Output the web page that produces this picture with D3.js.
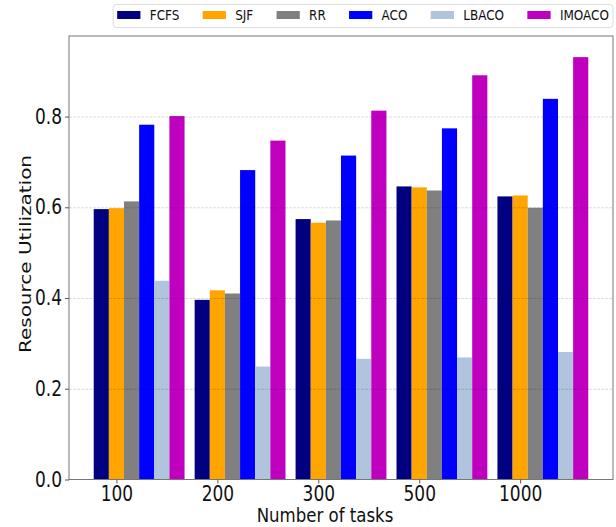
<!DOCTYPE html>
<html>
<head>
<meta charset="utf-8">
<script src="https://cdn.jsdelivr.net/npm/d3@7"></script>
<style>
  html, body { margin: 0; padding: 0; background: #fff; }
  svg { display: block; font-family: "DejaVu Sans", sans-serif; }
</style>
</head>
<body>
<script>
const taskCounts = ['100', '200', '300', '500', '1000'];
const algorithms = ['FCFS', 'SJF', 'RR', 'ACO', 'LBACO', 'IMOACO'];
const algoColors = ['#000080', '#ffa500', '#808080', '#0000ff', '#b0c4de', '#bf00bf'];

const fcfs = [0.596, 0.396, 0.574, 0.646, 0.624];
const sjf = [0.598, 0.417, 0.566, 0.644, 0.626];
const rr = [0.613, 0.410, 0.571, 0.637, 0.599];
const aco = [0.782, 0.682, 0.714, 0.774, 0.839];
const lbaco = [0.438, 0.249, 0.266, 0.269, 0.281];
const imoaco = [0.801, 0.747, 0.813, 0.891, 0.931];
const series = [fcfs, sjf, rr, aco, lbaco, imoaco];

const yTicks = [0.0, 0.2, 0.4, 0.6, 0.8];

const width = 616;
const height = 527;
const sx = 0.83; // the picture is squeezed sideways
const barW = 0.15;
const margin = { top: 36, right: 3, bottom: 47.5, left: 69 };

const svg = d3.select('body')
  .append('svg')
  .attr('width', width)
  .attr('height', height);

// matplotlib style 5% margins on x
const xMin = -barW / 2;
const xMax = taskCounts.length - 1 + (algorithms.length - 1) * barW + barW / 2;
const pad = (xMax - xMin) * 0.05;
const x = d3.scaleLinear()
  .domain([xMin - pad, xMax + pad])
  .range([margin.left, width - margin.right]);

const yMax = d3.max(series.flat()) * 1.05;
const y = d3.scaleLinear()
  .domain([0, yMax])
  .range([height - margin.bottom, margin.top]);

const squeeze = (sel) => sel.each(function() {
  const t = d3.select(this);
  const tx = +t.attr('x') || 0;
  t.attr('x', tx / sx).attr('transform', `scale(${sx},1)`);
});

// bars
const rows = [];
series.forEach((vals, j) => vals.forEach((v, i) => rows.push({ i, j, v })));
svg.append('g')
  .selectAll('rect')
  .data(rows)
  .enter()
  .append('rect')
  .attr('x', (d) => x(d.i + d.j * barW - barW / 2))
  .attr('width', x(barW) - x(0))
  .attr('y', (d) => y(d.v))
  .attr('height', (d) => y(0) - y(d.v))
  .attr('fill', (d) => algoColors[d.j]);

// grid on top of bars, faint
svg.append('g')
  .selectAll('line')
  .data(yTicks.slice(1))
  .enter()
  .append('line')
  .attr('x1', margin.left)
  .attr('x2', width - margin.right)
  .attr('y1', (d) => y(d) + 0.5)
  .attr('y2', (d) => y(d) + 0.5)
  .attr('stroke', '#000')
  .attr('stroke-opacity', 0.14)
  .attr('stroke-dasharray', '3,1');

// frame
svg.append('rect')
  .attr('x', margin.left)
  .attr('y', margin.top)
  .attr('width', width - margin.right - margin.left)
  .attr('height', height - margin.bottom - margin.top)
  .attr('fill', 'none')
  .attr('stroke', '#777')
  .attr('stroke-width', 1);

// axes
const yAxis = svg.append('g')
  .attr('transform', `translate(${margin.left},0)`)
  .call(d3.axisLeft(y).tickValues(yTicks).tickFormat(d3.format('.1f')).tickSize(4).tickPadding(3));
const xAxis = svg.append('g')
  .attr('transform', `translate(0,${height - margin.bottom})`)
  .call(d3.axisBottom(x)
    .tickValues(taskCounts.map((c, i) => i + barW))
    .tickFormat((d, i) => taskCounts[i])
    .tickSize(4).tickPadding(3));

[yAxis, xAxis].forEach((ax) => {
  ax.select('.domain').remove();
  ax.selectAll('.tick line').attr('stroke', '#555');
  ax.selectAll('text')
    .attr('font-size', 20.5)
    .attr('font-family', 'DejaVu Sans')
    .attr('fill', '#111')
    .call(squeeze);
});

// axis titles
svg.append('text')
  .attr('transform', `translate(325,522) scale(${sx},1)`)
  .attr('text-anchor', 'middle')
  .attr('font-size', 20)
  .attr('fill', '#111')
  .text('Number of tasks');

svg.append('text')
  .attr('transform', `translate(31,254) scale(${sx},1) rotate(-90)`)
  .attr('text-anchor', 'middle')
  .attr('font-size', 20)
  .attr('fill', '#111')
  .text('Resource Utilization');

// legend, one row, right aligned to the plot
const legend = svg.append('g');
const em = 14 * sx;
const handle = 2 * em;
const textPad = 0.8 * em;
const colGap = 2 * em;
const items = legend.selectAll('g')
  .data(algorithms)
  .enter()
  .append('g');
items.append('text')
  .attr('font-size', 14.5)
  .attr('fill', '#111')
  .attr('y', 20)
  .text((d) => d);
const widths = [];
items.select('text').each(function() { widths.push(this.getComputedTextLength() * sx); });
const total = d3.sum(widths) + algorithms.length * (handle + textPad) + (algorithms.length - 1) * colGap;
let cursor = width - margin.right - 4 - total;
items.each(function(d, j) {
  const g = d3.select(this);
  g.insert('rect', 'text')
    .attr('x', cursor)
    .attr('y', 11)
    .attr('width', handle)
    .attr('height', 8)
    .attr('fill', algoColors[j]);
  g.select('text')
    .attr('transform', `translate(${cursor + handle + textPad},0) scale(${sx},1)`);
  cursor += handle + textPad + widths[j] + colGap;
});
legend.insert('rect', 'g')
  .attr('x', width - margin.right - total - 8)
  .attr('y', 4.5)
  .attr('width', total + 8)
  .attr('height', 23)
  .attr('rx', 3)
  .attr('fill', '#fff')
  .attr('stroke', '#ddd');
</script>
</body>
</html>
